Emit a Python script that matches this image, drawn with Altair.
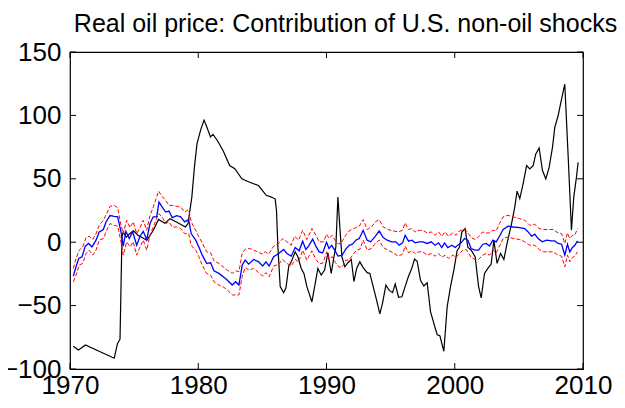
import altair as alt
import pandas as pd

FONT = "Liberation Sans, Arial, Helvetica, sans-serif"
TITLE = "Real oil price: Contribution of U.S. non-oil shocks"

x_ticks = [1970, 1980, 1990, 2000, 2010]
y_ticks = [-100, -50, 0, 50, 100, 150]

black_year = [1970.25, 1970.67, 1971.2, 1973.45, 1973.7, 1973.9, 1974.05, 1974.15, 1974.4, 1974.7,
              1974.95, 1975.3, 1976.0, 1976.5, 1976.9, 1977.4, 1977.8, 1978.3, 1979.0, 1979.2,
              1979.5, 1979.7, 1979.9, 1980.2, 1980.45, 1980.7, 1980.95, 1981.15, 1981.5, 1981.95,
              1982.45, 1982.85, 1983.4, 1984.0, 1984.7, 1985.3, 1985.7, 1986.0, 1986.1, 1986.21,
              1986.39, 1986.66, 1986.84, 1987.05, 1987.25, 1987.56, 1987.77, 1988.03, 1988.24, 1988.47,
              1988.86, 1989.12, 1989.33, 1989.59, 1989.85, 1990.11, 1990.37, 1990.58, 1990.73, 1990.89,
              1991.04, 1991.2, 1991.43, 1991.69, 1991.93, 1992.14, 1992.35, 1992.6, 1992.86, 1993.17,
              1993.38, 1993.64, 1993.9, 1994.16, 1994.37, 1994.63, 1994.89, 1995.15, 1995.36, 1995.62,
              1995.88, 1996.13, 1996.4, 1996.6, 1996.87, 1997.07, 1997.33, 1997.59, 1997.85, 1998.11,
              1998.37, 1998.63, 1998.84, 1999.15, 1999.41, 1999.67, 1999.93, 2000.19, 2000.37, 2000.55,
              2000.81, 2001.02, 2001.28, 2001.59, 2001.86, 2002.06, 2002.32, 2002.58, 2002.84, 2003.05,
              2003.3, 2003.57, 2003.83, 2004.08, 2004.43, 2004.68, 2004.86, 2005.07, 2005.33, 2005.6,
              2005.85, 2006.11, 2006.32, 2006.58, 2006.84, 2007.1, 2007.36, 2007.62, 2007.8, 2008.06,
              2008.27, 2008.58, 2008.84, 2009.1, 2009.28, 2009.49, 2009.62]
black_val = [-82, -85, -81, -91.5, -80, -76.5, 4, 8, 4, 7,
             9, 5.5, 1.6, 9.4, 18, 15, 18.6, 16, 12, 14.7,
             35.6, 59, 77.5, 89, 96.3, 90, 83, 85, 80, 72,
             60.4, 58, 50, 47.3, 44.7, 37, 35.6, 34, 25, -3.7,
             -35, -39.8, -36, -19.4, -15.5, -7.6, -11.5, -20.7, -24.6, -35,
             -47, -32.5, -20.7, -26, -22, -8.4, -24.6, -11.5, -3.7, 35.6,
             12, -11.5, -19.4, -16, -13.6, -31, -20.7, -15.5, -20, -24,
             -24.6, -35, -45.5, -56.5, -48, -33.8, -38, -39.8, -33, -43.4,
             -43, -35, -26.7, -22, -13.3, -15, -30, -34.5, -32, -54.7,
             -64, -73, -73.8, -86, -50.8, -35, -22, -6.3, -4, 8,
             10.7, -4, -6.3, -11.5, -35, -44, -24.6, -20.7, -17.3, 1.6,
             -16.7, -8.9, -13.6, -1, 14.7, 27.7, 40.3, 34.3, 46, 60.4,
             57.8, 60.4, 69.6, 74.3, 56.5, 50, 59, 74.8, 90.5, 99.7,
             110, 124.6, 68.3, 9.4, 35.6, 51.3, 63]

blue_year = [1970.26, 1970.47, 1970.68, 1970.94, 1971.19, 1971.46, 1971.71, 1972.03, 1972.28, 1972.6,
             1972.81, 1973.12, 1973.45, 1973.72, 1973.98, 1974.15, 1974.36, 1974.62, 1974.89, 1975.2,
             1975.46, 1975.71, 1975.98, 1976.24, 1976.49, 1976.76, 1976.94, 1977.19, 1977.46, 1977.72,
             1977.97, 1978.32, 1978.63, 1978.94, 1979.25, 1979.45, 1979.8, 1980.05, 1980.31, 1980.65,
             1980.97, 1981.22, 1981.61, 1982.0, 1982.26, 1982.65, 1982.92, 1983.17, 1983.43, 1983.66,
             1983.93, 1984.32, 1984.71, 1985.02, 1985.28, 1985.53, 1985.88, 1986.27, 1986.66, 1986.91,
             1987.25, 1987.56, 1987.87, 1988.14, 1988.39, 1988.6, 1988.92, 1989.17, 1989.43, 1989.7,
             1990.0, 1990.2, 1990.4, 1990.65, 1990.9, 1991.2, 1991.5, 1991.77, 1992.03, 1992.29,
             1992.55, 1992.86, 1993.17, 1993.44, 1993.77, 1994.11, 1994.42, 1994.73, 1995.07, 1995.41,
             1995.67, 1995.93, 1996.13, 1996.4, 1996.66, 1996.91, 1997.23, 1997.51, 1997.85, 1998.16,
             1998.47, 1998.74, 1998.99, 1999.2, 1999.46, 1999.77, 2000.03, 2000.24, 2000.5, 2000.76,
             2001.02, 2001.28, 2001.59, 2001.86, 2002.19, 2002.45, 2002.71, 2002.97, 2003.23, 2003.49,
             2003.77, 2004.16, 2004.55, 2005.07, 2005.46, 2005.72, 2005.99, 2006.24, 2006.5, 2006.84,
             2007.16, 2007.55, 2007.8, 2008.06, 2008.33, 2008.58, 2008.79, 2008.97, 2009.18, 2009.36,
             2009.57]
blue_val = [-26.7, -19.4, -12.8, -11.5, -3.1, -1, -3.7, 1.6, 8, 10,
            16, 21, 20.4, 20, 8, -3.1, 8.6, 2.9, 8, -2.4,
            4.7, 8.6, 2.1, 14.7, 20, 20, 31.6, 27.7, 23.8, 24.6,
            19.4, 21, 20, 16, 17.8, 6.8, 1.6, -3.7, -10.2, -16.7,
            -16.2, -22.5, -24.6, -27.7, -29.8, -33.8, -31.2, -33.8, -18, -14.1,
            -17.3, -13.6, -15.5, -18.8, -15.5, -18.8, -11.5, -8.9, -5.7, -8.9,
            -11, -4.2, -6.8, 0.8, -5.7, -3.1, 2.4, -3.1, -7.6, -8.4,
            0, -5, -2.5, -6.5, -11, -10.5, -5.5, -2.5, -1.6, 1.6,
            2.9, 9.4, 1.6, 0.3, 4.2, 8.9, 3.7, 1.6, 0.3, 0.3,
            -2.4, -0.5, 5.5, 0.8, 1.6, -0.5, 0.3, 0.3, -1, 0.3,
            -2.4, -0.5, -4.2, -0.5, -4.2, -2.4, -4.2, -2.4, -0.5, 2.9,
            1.6, -5, -6.3, -6.3, -1.6, -1, -3.1, 1.6, 0.3, 4.7,
            10, 12.6, 12, 11.5, 10.8, 8.1, 4.7, 6.3, 2.9, 0.3,
            1.6, 1, 1, -1, -1.6, -10.2, -1.6, -7.6, -4.2, -2.4,
            1]

upper_year = [1970.26, 1970.47, 1970.72, 1970.99, 1971.25, 1971.5, 1971.77, 1972.03, 1972.28, 1972.6,
              1972.86, 1973.12, 1973.45, 1973.72, 1973.92, 1974.15, 1974.42, 1974.68, 1974.93, 1975.2,
              1975.46, 1975.71, 1975.98, 1976.24, 1976.49, 1976.91, 1977.23, 1977.46, 1977.72, 1977.97,
              1978.32, 1978.63, 1978.94, 1979.25, 1979.45, 1979.8, 1980.05, 1980.31, 1980.65, 1980.97,
              1981.22, 1981.61, 1982.0, 1982.26, 1982.65, 1982.92, 1983.17, 1983.43, 1983.66, 1984.05,
              1984.32, 1984.65, 1984.97, 1985.22, 1985.49, 1985.88, 1986.27, 1986.58, 1986.91, 1987.25,
              1987.51, 1987.83, 1988.14, 1988.47, 1988.86, 1989.17, 1989.43, 1989.77, 1990.0, 1990.2,
              1990.45, 1990.7, 1990.95, 1991.2, 1991.5, 1991.77, 1992.14, 1992.55, 1992.86, 1993.17,
              1993.5, 1993.8, 1994.11, 1994.42, 1994.8, 1995.2, 1995.6, 1995.93, 1996.13, 1996.4,
              1996.66, 1996.91, 1997.23, 1997.51, 1997.85, 1998.16, 1998.47, 1998.74, 1998.99, 1999.25,
              1999.51, 1999.85, 2000.1, 2000.37, 2000.63, 2000.89, 2001.28, 2001.59, 2001.86, 2002.19,
              2002.45, 2002.71, 2002.97, 2003.23, 2003.49, 2003.77, 2004.16, 2004.55, 2005.07, 2005.46,
              2005.85, 2006.24, 2006.58, 2006.9, 2007.29, 2007.68, 2008.06, 2008.33, 2008.58, 2008.79,
              2008.97, 2009.18, 2009.36, 2009.57]
upper_val = [-20.7, -12.8, -6.3, -3.7, 3.7, 4.7, 2.1, 6.8, 13.3, 17.3,
             22.5, 28.3, 29, 27.2, 16, 6.8, 17.3, 11.5, 16, 6.8,
             11.5, 17.3, 9.4, 21, 27.7, 40.3, 35.6, 33, 29, 29,
             28.3, 27.7, 23.8, 25.7, 16, 9.4, 4.2, -0.5, -7.6, -8.4,
             -14.7, -16.7, -19.9, -22, -24.6, -22.5, -23.3, -8.4, -5.7, -5,
             -6.3, -7.6, -9.4, -7.6, -9.4, -3.1, -1, 2.9, 0.3, -2.4,
             4.7, 1.6, 9.4, 2.1, 10.8, 5.5, 0.3, 0.3, 6.3, 3,
             5.5, 1, -1.6, 0.3, 5.5, 8.9, 10.8, 12.6, 17.8, 10,
             12, 16, 17.8, 12, 10, 8.9, 8.1, 9.4, 15.2, 10,
             10.8, 8.1, 9.4, 9.4, 7.3, 8.1, 5.5, 8.1, 4.7, 8.1,
             4.7, 7.3, 5.5, 8.9, 10, 9.4, 3.7, 2.1, 4.2, 8.1,
             7.3, 7.3, 9.4, 8.9, 14.7, 20, 21.2, 20, 18.6, 17.3,
             13.3, 14.1, 10.8, 10, 10, 10, 7.3, 6.8, -1, 7.3,
             2.9, 5.5, 5.5, 10.8]

lower_year = [1970.26, 1970.47, 1970.72, 1970.99, 1971.25, 1971.5, 1971.77, 1972.03, 1972.28, 1972.6,
              1972.86, 1973.12, 1973.45, 1973.72, 1973.98, 1974.15, 1974.42, 1974.68, 1974.93, 1975.2,
              1975.46, 1975.71, 1975.98, 1976.24, 1976.49, 1976.91, 1977.19, 1977.46, 1977.72, 1977.97,
              1978.32, 1978.63, 1978.94, 1979.25, 1979.45, 1979.8, 1980.05, 1980.31, 1980.65, 1980.97,
              1981.22, 1981.61, 1982.0, 1982.26, 1982.65, 1982.92, 1983.17, 1983.43, 1983.66, 1983.96,
              1984.32, 1984.71, 1985.02, 1985.28, 1985.53, 1985.88, 1986.27, 1986.58, 1986.91, 1987.25,
              1987.56, 1987.83, 1988.14, 1988.47, 1988.86, 1989.17, 1989.43, 1989.7, 1990.03, 1990.2,
              1990.45, 1990.7, 1990.95, 1991.2, 1991.51, 1991.77, 1992.03, 1992.35, 1992.6, 1992.86,
              1993.17, 1993.5, 1993.8, 1994.11, 1994.42, 1994.8, 1995.2, 1995.6, 1995.93, 1996.13,
              1996.4, 1996.66, 1996.91, 1997.23, 1997.51, 1997.85, 1998.16, 1998.47, 1998.74, 1998.99,
              1999.25, 1999.51, 1999.85, 2000.1, 2000.37, 2000.63, 2000.89, 2001.28, 2001.59, 2001.86,
              2002.19, 2002.45, 2002.71, 2002.97, 2003.23, 2003.49, 2003.77, 2004.16, 2004.55, 2005.07,
              2005.46, 2005.85, 2006.24, 2006.58, 2006.9, 2007.29, 2007.68, 2008.06, 2008.33, 2008.58,
              2008.79, 2008.97, 2009.18, 2009.36, 2009.57]
lower_val = [-31.2, -26, -18, -16.7, -8.9, -6.3, -10.2, -6.3, 1.6, 2.9,
             9.4, 14.7, 13.3, 12.6, 0.3, -10.2, 0.3, -3.7, 0.3, -10.2,
             -3.7, 1.6, -6.3, 5.5, 12, 22.5, 20, 14.7, 16, 12,
             12, 10.8, 6.8, 6.8, -2.4, -6.3, -11.5, -18, -24.6, -26,
             -31.2, -33.8, -35.6, -37.7, -41.6, -41.6, -41.6, -27, -19.9, -22,
             -20.7, -24, -26.7, -24, -27.2, -18.8, -17.3, -13.6, -16.7, -18.8,
             -13.6, -15.5, -6.3, -14.1, -6.8, -13.6, -16.7, -16.7, -7.6, -13,
             -11.5, -16, -19.4, -19.9, -14.1, -14.1, -10.2, -6.3, -5.7, 1.6,
             -6.3, -5, -1, 1.6, -4.2, -6.3, -8.4, -11, -9.4, -3.1,
             -8.4, -6.8, -8.9, -7.6, -7.6, -10.2, -8.9, -11, -8.9, -12,
             -10.2, -12.8, -10.2, -12, -8.9, -6.3, -5.7, -12, -13.6, -13.6,
             -10.2, -8.9, -10.2, -6.3, -8.4, -3.1, 2.9, 4.2, 2.9, 2.1,
             0.3, -2.4, -2.4, -5.7, -7.6, -7.6, -7.6, -10.2, -11, -19.4,
             -10.2, -15.5, -12, -11, -7.6]

W, H = 513, 317
TICK = 6

xs = alt.Scale(domain=[1970, 2010], nice=False, zero=False)
ys = alt.Scale(domain=[-100, 150], nice=False, zero=False)

x_axis = alt.Axis(values=x_ticks, format="d", title=None, ticks=False, domain=False, grid=False,
                  labelFont=FONT, labelFontSize=26, labelColor="black", labelPadding=3,
                  labelFlush=False, labelOverlap=False)
y_axis = alt.Axis(values=y_ticks, format="d", title=None, ticks=False, domain=False, grid=False,
                  labelFont=FONT, labelFontSize=26, labelColor="black", labelPadding=9,
                  labelFlush=False, labelOverlap=False)

df_black = pd.DataFrame({"year": black_year, "value": black_val})
df_blue = pd.DataFrame({"year": blue_year, "value": blue_val})
df_upper = pd.DataFrame({"year": upper_year, "value": upper_val})
df_lower = pd.DataFrame({"year": lower_year, "value": lower_val})
df_xt = pd.DataFrame({"year": x_ticks})
df_yt = pd.DataFrame({"value": y_ticks})

X = alt.X("year:Q", scale=xs, axis=x_axis)
Y = alt.Y("value:Q", scale=ys, axis=y_axis)

upper = alt.Chart(df_upper).mark_line(color="#ff0000", strokeWidth=1, strokeDash=[4, 2]).encode(x=X, y=Y)
lower = alt.Chart(df_lower).mark_line(color="#ff0000", strokeWidth=1, strokeDash=[4, 2]).encode(x=X, y=Y)
blue = alt.Chart(df_blue).mark_line(color="#0000ff", strokeWidth=1.3).encode(x=X, y=Y)
black = alt.Chart(df_black).mark_line(color="#000000", strokeWidth=1.2).encode(x=X, y=Y)

xt_bottom = alt.Chart(df_xt).mark_rule(color="black", strokeWidth=1).encode(
    x=X, y=alt.value(H), y2=alt.value(H - TICK))
xt_top = alt.Chart(df_xt).mark_rule(color="black", strokeWidth=1).encode(
    x=X, y=alt.value(0), y2=alt.value(TICK))
yt_left = alt.Chart(df_yt).mark_rule(color="black", strokeWidth=1).encode(
    y=Y, x=alt.value(0), x2=alt.value(TICK))
yt_right = alt.Chart(df_yt).mark_rule(color="black", strokeWidth=1).encode(
    y=Y, x=alt.value(W), x2=alt.value(W - TICK))

chart = alt.layer(black, upper, lower, blue, xt_bottom, xt_top, yt_left, yt_right).properties(
    width=W, height=H,
    title=alt.TitleParams(TITLE, font=FONT, fontSize=25, fontWeight="normal", color="black",
                          anchor="middle", dx=19, offset=2),
    autosize=alt.AutoSizeParams(type="none"),
    padding={"left": 62, "top": 44, "right": 34, "bottom": 31},
).configure(background="white").configure_view(stroke="black", strokeWidth=1.2)

chart.save("out.html", embed_options={"renderer": "svg", "actions": False})
